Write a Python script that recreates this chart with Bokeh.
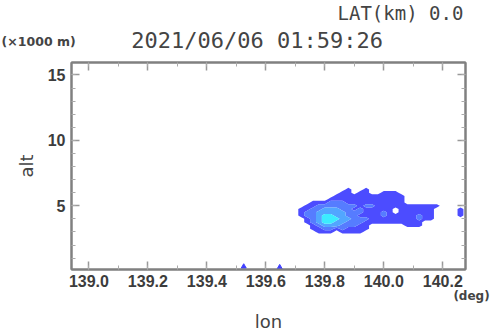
import numpy as np
from bokeh.plotting import figure
from bokeh.models import Range1d, LinearAxis, SingleIntervalTicker, PrintfTickFormatter, Label
from bokeh.embed import file_html
from bokeh.resources import INLINE

# ---- data ----
title_text = "2021/06/06 01:59:26"
lat_text = "LAT(km) 0.0"
unit_y_text = "(\u00d71000 m)"
unit_x_text = "(deg)"
xlabel_text = "lon"
ylabel_text = "alt"

# echo grid: lon = 139.68 + 0.02*col (32 cols), alt = 2.5 + 0.25*row (18 rows)
lon_start, lon_step, n_lon = 139.68, 0.02, 32
alt_start, alt_step, n_alt = 2.5, 0.25, 18
# rows listed from top (alt 6.75) down to bottom (alt 2.5); digit = echo level
echo_rows = [
    "00000000000000000000000000000000",  # 6.75
    "00000000000000000000000000000000",  # 6.50
    "00000000001001000000000000000000",  # 6.25
    "00000000011011001110000000000000",  # 6.00
    "00000000111111111111000000000000",  # 5.75
    "00000001111111111111000000000000",  # 5.50
    "00001112221111111111000000000000",  # 5.25
    "00011222222212211111111111000000",  # 5.00
    "00112233322121111101111110000100",  # 4.75
    "00122333332221112101111110000100",  # 4.50
    "00122344332211112111112110000100",  # 4.25
    "00012344433222111111112110000000",  # 4.00
    "00012344332221111111111000000000",  # 3.75
    "00001233322211000000111000000000",  # 3.50
    "00001122121111000000000000000000",  # 3.25
    "00000111011110000000000000000000",  # 3.00
    "00000000000000000000000000000000",  # 2.75
    "00000000000000000000000000000000",  # 2.50
]
levels = [0.5, 1.5, 2.5, 3.5, 4.5]
level_colors = ["#4c4cff", "#567cff", "#52a6ff", "#3cecff"]

speck_lon = [139.525, 139.647]
speck_alt = [0.35, 0.3]

x_ticks_interval = 0.2
y_ticks_interval = 5

# ---- build ----
lon = lon_start + lon_step * np.arange(n_lon)
alt = alt_start + alt_step * np.arange(n_alt)
z = np.array([[int(ch) for ch in row] for row in echo_rows[::-1]], dtype=float)

p = figure(width=490, height=331,
           x_range=Range1d(138.941, 140.277), y_range=Range1d(0.13, 15.95),
           output_backend="svg", toolbar_location=None,
           min_border_left=71, min_border_right=25,
           min_border_top=61, min_border_bottom=62)
p.title.visible = False
p.xgrid.grid_line_color = None
p.ygrid.grid_line_color = None
p.background_fill_color = "white"
p.border_fill_color = "white"
p.outline_line_color = "#808080"
p.outline_line_width = 2

p.contour(x=lon, y=alt, z=z, levels=levels, fill_color=level_colors, line_color=None)
p.scatter(speck_lon, speck_alt, marker="triangle", size=5, color="#4040ff")

def style_axis(ax, labels=True):
    ax.axis_line_color = "#808080"
    ax.axis_line_width = 2
    ax.major_tick_line_color = "#999999"
    ax.major_tick_line_width = 1.5
    ax.minor_tick_line_color = "#aaaaaa"
    ax.minor_tick_line_width = 1
    ax.major_tick_in = 8
    ax.major_tick_out = 0
    ax.minor_tick_in = 4
    ax.minor_tick_out = 0
    if labels:
        ax.major_label_text_font = "Liberation Sans"
        ax.major_label_text_font_style = "bold"
        ax.major_label_text_font_size = "16px"
        ax.major_label_text_color = "#3c3c3c"
    else:
        ax.major_label_text_font_size = "1px"
        ax.major_label_text_color = None
        ax.major_label_standoff = 0

xt = SingleIntervalTicker(interval=x_ticks_interval, num_minor_ticks=2)
yt = SingleIntervalTicker(interval=y_ticks_interval, num_minor_ticks=5)
p.xaxis.ticker = xt
p.yaxis.ticker = yt
p.xaxis.formatter = PrintfTickFormatter(format="%.1f")
style_axis(p.xaxis[0])
style_axis(p.yaxis[0])
p.xaxis.major_label_standoff = 5
p.yaxis.major_label_standoff = 6

p.yaxis.axis_label = ylabel_text
p.yaxis.axis_label_text_font = "DejaVu Sans"
p.yaxis.axis_label_text_font_size = "18px"
p.yaxis.axis_label_text_font_style = "normal"
p.yaxis.axis_label_text_color = "#444444"
p.yaxis.axis_label_standoff = 8

top_ax = LinearAxis(ticker=SingleIntervalTicker(interval=x_ticks_interval, num_minor_ticks=2))
right_ax = LinearAxis(ticker=SingleIntervalTicker(interval=y_ticks_interval, num_minor_ticks=5))
style_axis(top_ax, labels=False)
style_axis(right_ax, labels=False)
p.add_layout(top_ax, "above")
p.add_layout(right_ax, "right")

def lab(side, text, x, y, font, size, style="normal", align="left", color="#444444"):
    p.add_layout(Label(x=x, y=y, text=text, text_font=font, text_font_size=size,
                       text_font_style=style, text_align=align, text_baseline="middle",
                       text_color=color), side)

lab("above", lat_text, 140.2698, 19.75, "DejaVu Sans Mono", "19px", align="right")
lab("above", title_text, 139.144, 17.66, "DejaVu Sans Mono", "22px")
lab("above", unit_y_text, 138.704, 17.54, "DejaVu Sans", "12.5px", style="bold")
lab("below", xlabel_text, 139.609, -3.85, "DejaVu Sans", "18px", align="center")
lab("below", unit_x_text, 140.2359, -1.92, "DejaVu Sans", "12px", style="bold")

open("out.html", "w").write(file_html(p, INLINE))
